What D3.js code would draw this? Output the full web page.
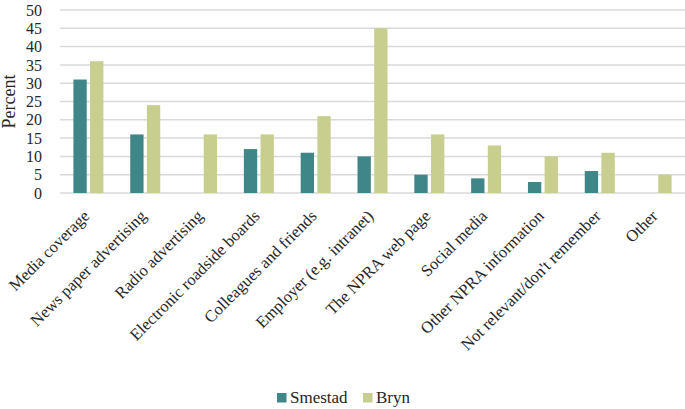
<!DOCTYPE html>
<html>
<head>
<meta charset="utf-8">
<script src="https://cdn.jsdelivr.net/npm/d3@7"></script>
</head>
<body style="margin:0; background:#fff">
<svg id="chart" width="685" height="409"></svg>
<script>
// Chart data
const categories = [
    "Media coverage", "News paper advertising", "Radio advertising",
    "Electronic roadside boards", "Colleagues and friends", "Employer (e.g. intranet)",
    "The NPRA web page", "Social media", "Other NPRA information",
    "Not relevant/don't remember", "Other"
];
const seriesNames = ["Smestad", "Bryn"];
const smestad = [31, 16, 0, 12, 11, 10, 5, 4, 3, 6, 0];
const bryn = [36, 24, 16, 16, 21, 45, 16, 13, 10, 11, 5];
const yTicks = [0, 5, 10, 15, 20, 25, 30, 35, 40, 45, 50];
const colors = ["#3F8689", "#C8CE8E"];

const FONT = '"Liberation Serif", "Times New Roman", serif';
const TEXT_COLOR = '#262626';

// apply serif font directly on a text selection
const serif = (sel, size) => sel
    .attr('font-family', FONT)
    .attr('font-size', size)
    .style('font-family', FONT)
    .style('font-size', size + 'px')
    .attr('fill', TEXT_COLOR);

const margin = { top: 10, right: 0, bottom: 216, left: 60 };
const width = 685 - margin.left - margin.right;
const height = 409 - margin.top - margin.bottom;

const root = d3.select('#chart')
    .style('font-family', FONT);

const svg = root.append('g')
    .attr('transform', `translate(${margin.left},${margin.top})`);

const xScale = d3.scaleBand()
    .domain(categories)
    .range([0, width]);

// two bars per category, centred in the band
const xInner = d3.scaleBand()
    .domain(seriesNames)
    .range([xScale.bandwidth() / 2 - 15, xScale.bandwidth() / 2 + 15])
    .paddingInner(0.2);

const yScale = d3.scaleLinear()
    .domain([0, 50])
    .range([height, 0]);

// horizontal grid lines
svg.selectAll('.grid-line')
    .data(yTicks)
    .enter()
    .append('line')
    .attr('class', 'grid-line')
    .attr('x1', 0)
    .attr('x2', width)
    .attr('y1', d => yScale(d))
    .attr('y2', d => yScale(d))
    .attr('stroke', '#D9D9D9')
    .attr('stroke-width', 1.5);

// y axis labels
const yAxis = svg.append('g')
    .attr('class', 'y-axis')
    .attr('transform', 'translate(-15,0)')
    .call(d3.axisLeft(yScale).tickValues(yTicks).tickSize(0));
yAxis.select('.domain').remove();
yAxis.attr('font-family', FONT).attr('font-size', 16);
serif(yAxis.selectAll('text'), 16);

// bars
const series = [smestad, bryn];
series.forEach((values, s) => {
    svg.selectAll('.bar-' + s)
        .data(values.map((v, i) => ({ cat: categories[i], value: v })).filter(d => d.value > 0))
        .enter()
        .append('rect')
        .attr('class', 'bar-' + s)
        .attr('x', d => xScale(d.cat) + xInner(seriesNames[s]))
        .attr('y', d => yScale(d.value))
        .attr('width', xInner.bandwidth())
        .attr('height', d => height - yScale(d.value))
        .attr('fill', colors[s]);
});

// x axis labels, rotated
svg.selectAll('.x-label')
    .data(categories)
    .enter()
    .append('text')
    .attr('class', 'x-label')
    .attr('text-anchor', 'end')
    .call(serif, 16.5)
    .attr('transform', d => `translate(${xScale(d) + xScale.bandwidth() / 2 + 2},${height + 24}) rotate(-45)`)
    .text(d => d);

// y axis title
svg.append('text')
    .attr('transform', `translate(${-45},${height / 2}) rotate(-90)`)
    .attr('text-anchor', 'middle')
    .call(serif, 18)
    .text('Percent');

// legend
const legend = root.append('g')
    .attr('transform', 'translate(277,393)');
const legendX = [0, 86];
seriesNames.forEach((name, i) => {
    legend.append('rect')
        .attr('x', legendX[i])
        .attr('y', 0)
        .attr('width', 9.5)
        .attr('height', 9.5)
        .attr('fill', colors[i]);
    legend.append('text')
        .attr('x', legendX[i] + 13)
        .attr('y', 10)
        .call(serif, 17)
        .text(name);
});
</script>
</body>
</html>
